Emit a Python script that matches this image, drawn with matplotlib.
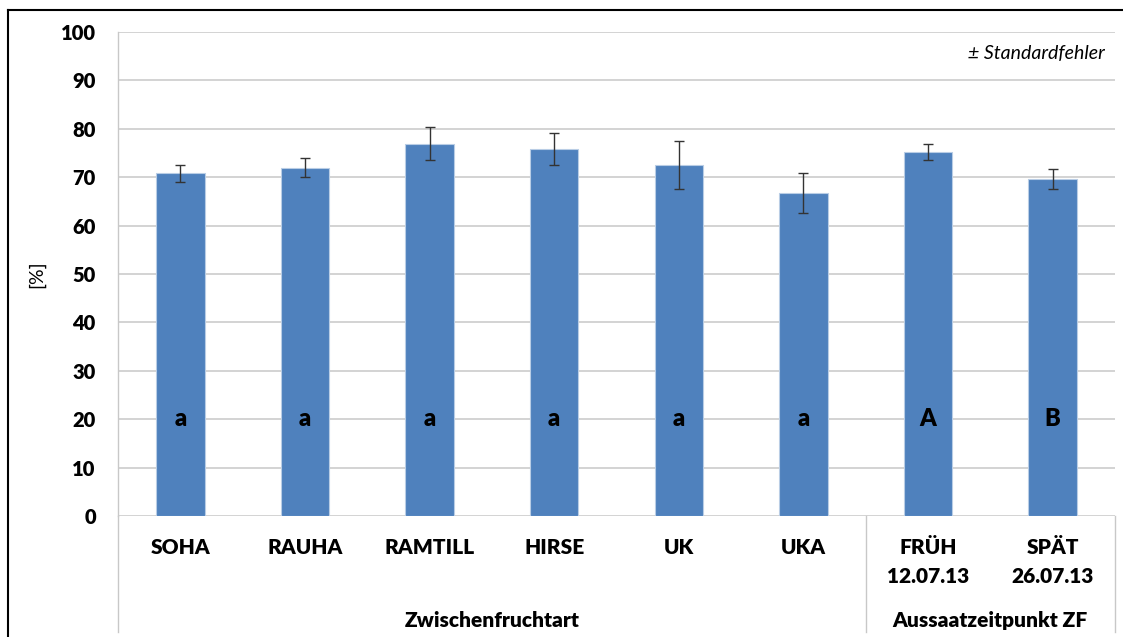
import matplotlib
matplotlib.use('agg')
import matplotlib.pyplot as plt
import matplotlib.transforms as mtransforms
from matplotlib.lines import Line2D

# Data
categories = ['SOHA', 'RAUHA', 'RAMTILL', 'HIRSE', 'UK', 'UKA', 'FRÜH\n12.07.13', 'SPÄT\n26.07.13']
values = [70.8, 72.0, 76.9, 75.8, 72.5, 66.7, 75.2, 69.6]
errors = [1.8, 2.0, 3.4, 3.3, 4.9, 4.1, 1.7, 2.1]
letters = ['a', 'a', 'a', 'a', 'a', 'a', 'A', 'B']
groups = ['Zwischenfruchtart', 'Aussaatzeitpunkt ZF']
group_sizes = [6, 2]

plt.rcParams['font.family'] = ['Lato', 'DejaVu Sans']

fig = plt.figure(figsize=(11.23, 6.37), dpi=100)
ax = fig.add_axes([118 / 1123, 121 / 637, 997 / 1123, 484 / 637])

x = list(range(len(categories)))
ax.bar(x, values, width=0.39, color='#4F81BD', edgecolor='#B9CDE5', linewidth=0.8, zorder=3)
ax.errorbar(x, values, yerr=errors, fmt='none', ecolor='#333333', elinewidth=1.0,
            capsize=3.5, capthick=1.0, zorder=4)

for xi, letter in zip(x, letters):
    ax.text(xi, 20, letter, ha='center', va='center', fontsize=17, fontweight='heavy',
            color='black', zorder=5)

ax.set_xlim(-0.5, len(categories) - 0.5)
ax.set_ylim(0, 100)
ax.set_yticks(range(0, 101, 10))
ax.set_yticklabels([str(v) for v in range(0, 101, 10)], fontsize=14.5, fontweight='heavy')
ax.tick_params(axis='y', length=0, pad=16)
ax.set_xticks([])
ax.grid(axis='y', color='#D0D0D0', linewidth=1.3, zorder=0)
ax.set_axisbelow(True)
for side in ['top', 'right', 'bottom']:
    ax.spines[side].set_visible(False)
ax.spines['left'].set_color('#C8C8C8')
ax.spines['left'].set_linewidth(1.0)
ax.set_ylabel('[%]', fontsize=14)
ax.yaxis.set_label_coords(-0.073, 0.5)

# category labels
trans = mtransforms.blended_transform_factory(ax.transData, ax.transAxes)
for xi, cat in zip(x, categories):
    ax.text(xi, -0.046, cat, transform=trans, ha='center', va='top', fontsize=15,
            fontweight='heavy', linespacing=1.6)

# group labels and separators
low = -0.24
ax.plot([-0.5, -0.5], [0, low], transform=trans, color='#C8C8C8', lw=1.0, clip_on=False)
start = -0.5
for name, size in zip(groups, group_sizes):
    end = start + size
    ax.plot([end, end], [0, low], transform=trans, color='#C8C8C8', lw=1.0, clip_on=False)
    ax.text((start + end) / 2, -0.215, name, transform=trans, ha='center', va='center',
            fontsize=15, fontweight='heavy')
    start = end

ax.text(0.99, 0.955, '± Standardfehler', transform=ax.transAxes, ha='right', va='center',
        fontsize=14, style='italic')

# outer frame (top and left visible)
fig.add_artist(Line2D([8 / 1123, 1], [1 - 10 / 637, 1 - 10 / 637], color='black', lw=1.5))
fig.add_artist(Line2D([8 / 1123, 8 / 1123], [0, 1 - 10 / 637], color='black', lw=1.5))

fig.savefig('out.png', dpi=100)
